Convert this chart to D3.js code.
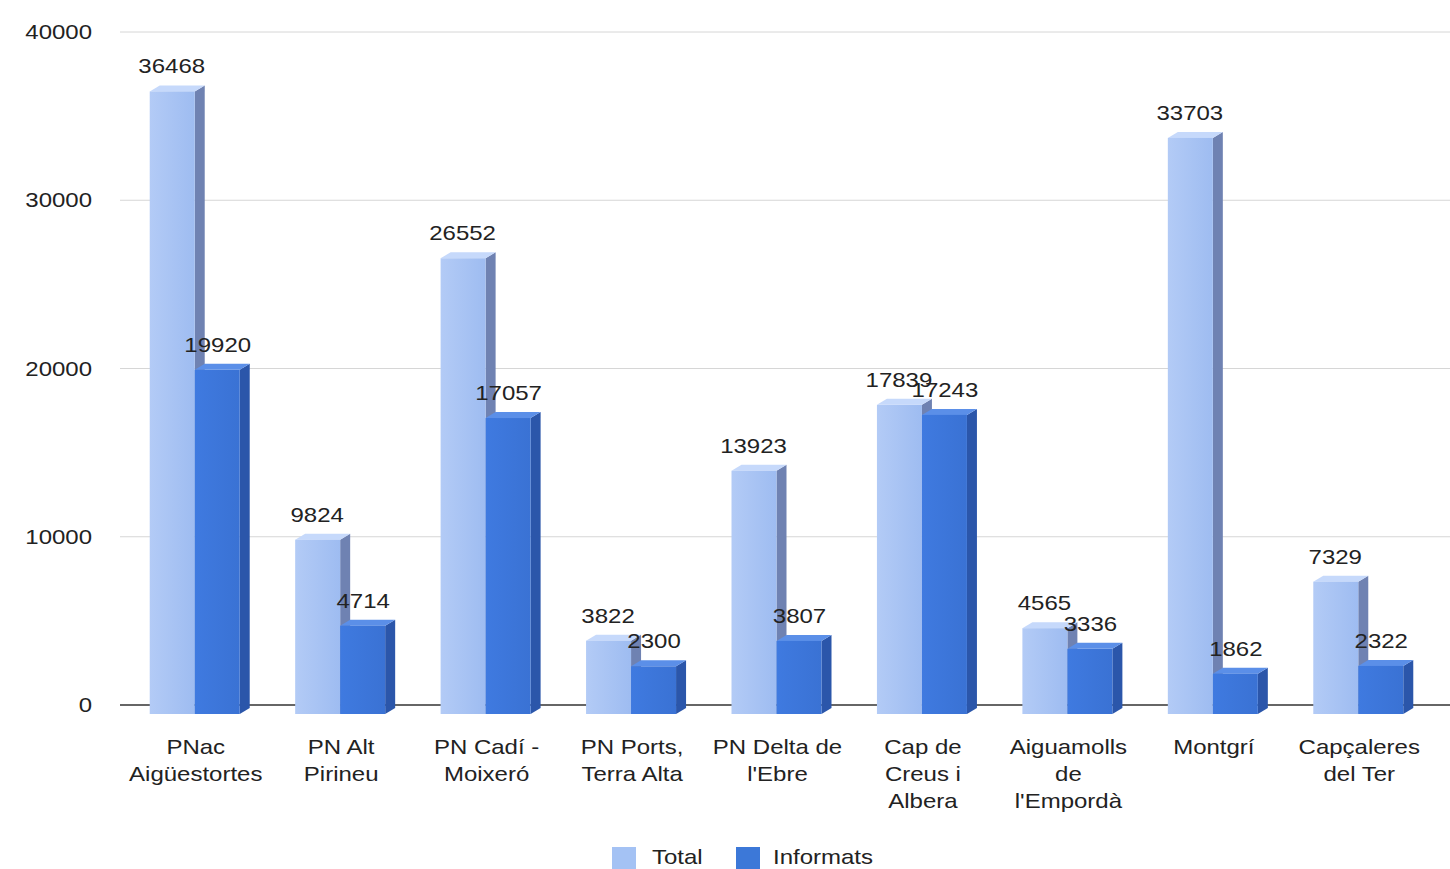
<!DOCTYPE html>
<html><head><meta charset="utf-8">
<script src="https://cdn.jsdelivr.net/npm/d3@7"></script>
<style>body{margin:0;background:#fff;overflow:hidden}svg{display:block}text{font-family:"Liberation Sans",Arial,sans-serif;fill:#222}</style>
</head><body>
<svg id="c" width="1450" height="869"></svg>
<script>
const categories = [["PNac","Aigüestortes"],["PN Alt","Pirineu"],["PN Cadí -","Moixeró"],["PN Ports,","Terra Alta"],["PN Delta de","l'Ebre"],["Cap de","Creus i","Albera"],["Aiguamolls","de","l'Empordà"],["Montgrí"],["Capçaleres","del Ter"]];
const totalValues = [36468,9824,26552,3822,13923,17839,4565,33703,7329];
const informatsValues = [19920,4714,17057,2300,3807,17243,3336,1862,2322];
const yTicks = [0,10000,20000,30000,40000];
const seriesNames = ["Total","Informats"];

const svg = d3.select("#c");
const defs = svg.append("defs");
function grad(id, c1, c2){
  const g = defs.append("linearGradient").attr("id",id).attr("x1","0").attr("x2","1").attr("y1","0").attr("y2","0");
  g.append("stop").attr("offset","0").attr("stop-color",c1);
  g.append("stop").attr("offset","1").attr("stop-color",c2);
}
grad("gT","#b3cbf6","#9ebcf1");
grad("gI","#3f7ae0","#3a72d4");

const x = d3.scaleBand().domain(d3.range(categories.length)).range([123,1432]);
const y = d3.scaleLinear().domain([0,40000]).range([705,32]);
const SX = 1.2, FS = 20;

function txt(g, tx, ty, s, anchor){
  return g.append("text").attr("transform",`translate(${tx},${ty}) scale(${SX},1)`)
    .attr("text-anchor",anchor||"middle").attr("font-size",FS).text(s);
}

// grid
const grid = svg.append("g");
yTicks.forEach(t=>{
  grid.append("line").attr("x1",120).attr("x2",1450).attr("y1",y(t)).attr("y2",y(t))
    .attr("stroke", t===0 ? "#333" : "#d6d6d6").attr("stroke-width", t===0 ? 1.5 : 1);
  txt(grid, 92, y(t)+7, String(t), "end");
});

const W = 45, DX = 10, DY = 6, DROP = 9;
const bars = svg.append("g");
function bar3d(x0, v, front, side, top){
  const yt = y(v), yb = y(0)+DROP;
  const g = bars.append("g");
  g.append("path").attr("d",`M${x0+W},${yt} L${x0+W+DX},${yt-DY} L${x0+W+DX},${yb-DY} L${x0+W},${yb} Z`).attr("fill",side);
  g.append("path").attr("d",`M${x0},${yt} L${x0+DX},${yt-DY} L${x0+W+DX},${yt-DY} L${x0+W},${yt} Z`).attr("fill",top);
  g.append("rect").attr("x",x0).attr("y",yt).attr("width",W).attr("height",yb-yt).attr("fill",front);
}
const labels = svg.append("g");
categories.forEach((cat,i)=>{
  const c = x(i)+x.bandwidth()/2;
  bar3d(c-46, totalValues[i], "url(#gT)", "#6f82b2", "#c6d9fb");
  bar3d(c-1, informatsValues[i], "url(#gI)", "#2b56aa", "#5b8fe8");
});
categories.forEach((cat,i)=>{
  const c = x(i)+x.bandwidth()/2;
  txt(labels, c-24, y(totalValues[i])-18, String(totalValues[i]));
  txt(labels, c+22, y(informatsValues[i])-18, String(informatsValues[i]));
  cat.forEach((line,j)=>txt(labels, c, 754+j*27, line));
});

// legend
const lg = svg.append("g");
lg.append("rect").attr("x",612).attr("y",847).attr("width",24).attr("height",22).attr("fill","#a4c2f4");
txt(lg, 652, 864, seriesNames[0], "start");
lg.append("rect").attr("x",736).attr("y",847).attr("width",24).attr("height",22).attr("fill","#3c78d8");
txt(lg, 773, 864, seriesNames[1], "start");
</script>
</body></html>
